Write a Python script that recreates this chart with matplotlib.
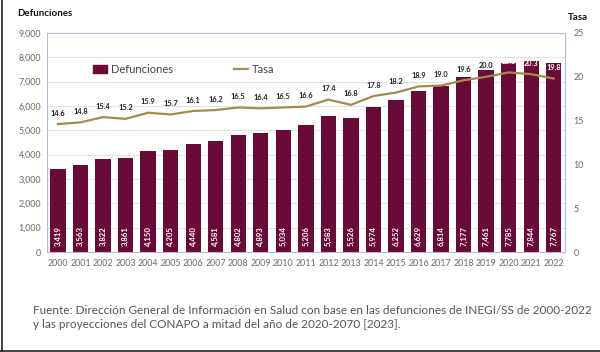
import matplotlib
matplotlib.use("Agg")
import matplotlib.pyplot as plt
from matplotlib.lines import Line2D
from matplotlib.patches import Patch

years = [str(y) for y in range(2000, 2023)]
defunciones = [3419, 3563, 3822, 3861, 4150, 4205, 4440, 4581, 4802, 4893, 5034,
               5206, 5583, 5526, 5974, 6252, 6629, 6814, 7177, 7461, 7785, 7844, 7767]
tasa = [14.6, 14.8, 15.4, 15.2, 15.9, 15.7, 16.1, 16.2, 16.5, 16.4, 16.5, 16.6,
        17.4, 16.8, 17.8, 18.2, 18.9, 19.0, 19.6, 20.0, 20.5, 20.3, 19.8]
left_ticks = [0, 1000, 2000, 3000, 4000, 5000, 6000, 7000, 8000, 9000]
right_ticks = [0, 5, 10, 15, 20, 25]

plt.rcParams['font.family'] = ['Lato', 'DejaVu Sans']

BAR = '#6a0a36'
LINE = '#a58a4e'
GRAY = '#6a6a6a'

fig = plt.figure(figsize=(6.0, 3.52), dpi=100)
ax = fig.add_axes([46.7/600, 1-252/352, (565-46.7)/600, (252-33)/352])
x = list(range(len(years)))
ax.bar(x, defunciones, width=0.68, color=BAR, zorder=2)
ax.set_xlim(-0.5, len(years)-0.5)
ax.set_ylim(0, 9000)
ax.set_yticks(left_ticks)
ax.set_yticklabels([f"{v:,}" for v in left_ticks])
ax.set_xticks(x)
ax.set_xticklabels(years)
ax.tick_params(length=0, labelsize=6.4, colors=GRAY, pad=4)
ax.tick_params(axis='x', pad=5)
ax.grid(axis='y', color='#e4e4e4', linewidth=0.8, zorder=0)
ax.set_axisbelow(True)
for s in ['top', 'left', 'right', 'bottom']:
    ax.spines[s].set_color('#b4bcd4')
    ax.spines[s].set_linewidth(0.8)

for xi, v in zip(x, defunciones):
    ax.text(xi, 230, f"{v:,}", rotation=90, ha='center', va='bottom',
            color='white', fontsize=5.6, fontweight='bold', zorder=3)

ax2 = ax.twinx()
ax2.plot(x, tasa, color=LINE, linewidth=1.6, zorder=4)
ax2.set_ylim(0, 25)
ax2.set_yticks(right_ticks)
ax2.tick_params(length=0, labelsize=6.4, colors=GRAY, pad=6)
for s in ['top', 'left', 'right', 'bottom']:
    ax2.spines[s].set_visible(False)

for xi, t, d in zip(x, tasa, defunciones):
    ly = t + 1.25
    col = 'white' if ly / 25 * 9000 < d + 150 else '#222222'
    ax2.text(xi, ly, f"{t:.1f}", ha='center', va='center', fontsize=5.3,
             fontweight='bold', color=col, zorder=5)

handles = [Patch(color=BAR), Line2D([0], [0], color=LINE, linewidth=1.6)]
leg = ax.legend(handles, ['Defunciones', 'Tasa'], loc='upper left',
                bbox_to_anchor=(0.07, 0.905), ncol=2, frameon=False,
                fontsize=8, handlelength=1.3, handleheight=0.8,
                handletextpad=0.3, columnspacing=5.5)
for t in leg.get_texts():
    t.set_color('#444444')

fig.text(17/600, 1-13/352, 'Defunciones', fontsize=7, fontweight='bold',
         color='#111111', ha='left', va='center')
fig.text(578/600, 1-17/352, 'Tasa', fontsize=7, fontweight='bold',
         color='#111111', ha='center', va='center')

fig.text(33/600, 1-310/352,
         'Fuente: Dirección General de Información en Salud con base en las defunciones de INEGI/SS de 2000-2022',
         fontsize=8.5, color='#555555', ha='left', va='center')
fig.text(33/600, 1-325/352,
         'y las proyecciones del CONAPO a mitad del año de 2020-2070 [2023].',
         fontsize=8.5, color='#555555', ha='left', va='center')

fig.add_artist(Line2D([1.5/600, 1.5/600], [0, 1], color='#222222', linewidth=1.2,
                      transform=fig.transFigure))
fig.add_artist(Line2D([0, 1], [1.5/352, 1.5/352], color='#222222', linewidth=1.2,
                      transform=fig.transFigure))

fig.savefig('out.png', dpi=100)
